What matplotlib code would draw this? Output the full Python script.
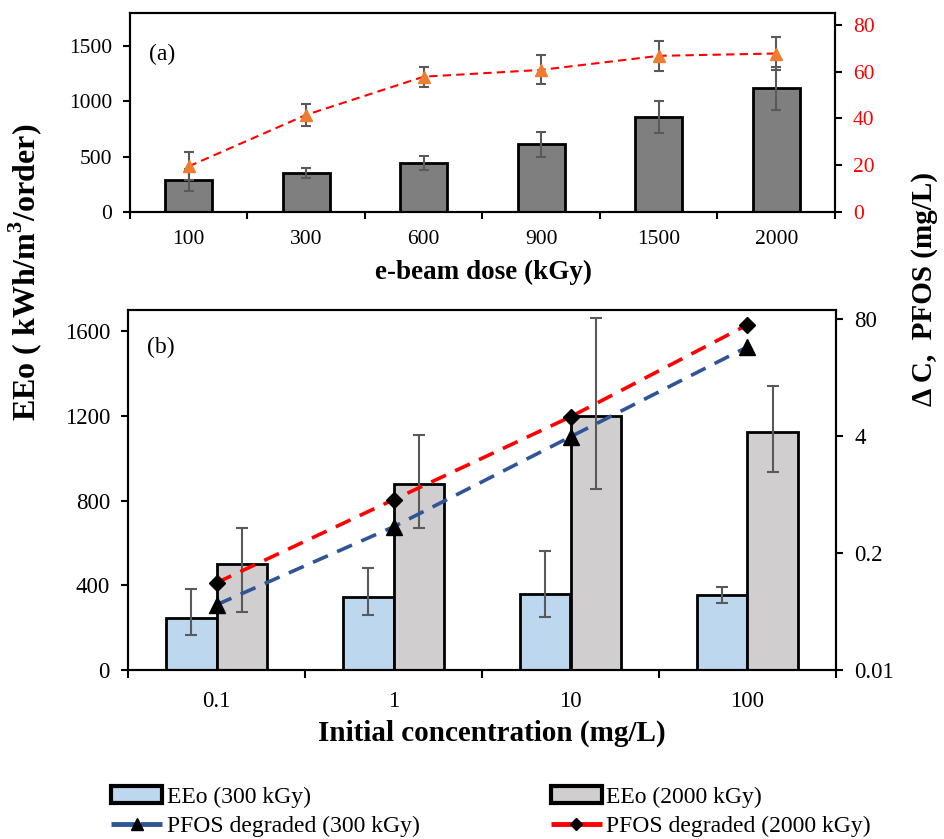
import matplotlib
matplotlib.use("Agg")
import matplotlib.pyplot as plt
import numpy as np
from matplotlib.lines import Line2D
from matplotlib.patches import Patch
from matplotlib.ticker import FixedLocator, NullLocator

plt.rcParams["font.family"] = ["Liberation Serif", "DejaVu Serif"]
plt.rcParams["mathtext.fontset"] = "custom"
plt.rcParams["mathtext.rm"] = "Liberation Serif"
plt.rcParams["mathtext.bf"] = "Liberation Serif:bold"

# (a) effect of e-beam dose
dose_labels = ["100", "300", "600", "900", "1500", "2000"]
eeo_dose = [289, 353, 443, 615, 859, 1121]
eeo_dose_err = [100, 45, 65, 113, 145, 195]
dc_dose = [19.5, 41.5, 57.8, 60.7, 66.7, 67.7]
dc_dose_err = [6.0, 4.7, 4.3, 6.2, 6.4, 7.0]

# (b) effect of initial concentration
conc_labels = ["0.1", "1", "10", "100"]
eeo_300 = [246, 346, 360, 355]
eeo_300_lo = [80, 86, 109, 38]
eeo_300_hi = [137, 137, 203, 38]
eeo_2000 = [502, 876, 1198, 1122]
eeo_2000_lo = [227, 204, 341, 189]
eeo_2000_hi = [170, 236, 464, 218]
pfos_300 = [0.053, 0.39, 3.9, 39]
pfos_2000 = [0.093, 0.78, 6.5, 68.5]

ERR_COLOR = "#595959"
BLUE_BAR = "#BDD7EE"
GREY_BAR = "#D0CECE"
LINE_BLUE = "#2F5597"

fig = plt.figure(figsize=(9.45, 8.39), dpi=100)
W, H = 945, 839


def px_axes(left, top, right, bottom):
    return fig.add_axes([left / W, 1 - bottom / H, (right - left) / W, (bottom - top) / H])


def style_spines(ax):
    for sp in ax.spines.values():
        sp.set_linewidth(1.5)
        sp.set_color("black")


# ---------- panel (a) ----------
ax1 = px_axes(130, 13, 835, 212)
x1 = np.arange(len(dose_labels))
ax1.bar(x1, eeo_dose, 0.4, color="#7F7F7F", edgecolor="black", linewidth=2, zorder=2,
        yerr=eeo_dose_err,
        error_kw=dict(ecolor=ERR_COLOR, elinewidth=1.5, capsize=3.5, capthick=1.5, zorder=3))
ax1.set_xlim(-0.5, len(dose_labels) - 0.5)
ax1.set_ylim(0, 1800)
ax1.set_yticks([0, 500, 1000, 1500])
ax1.set_xticks(x1)
ax1.set_xticklabels(dose_labels)
ax1.xaxis.set_minor_locator(FixedLocator(np.arange(-0.5, len(dose_labels), 1)))
ax1.tick_params(axis="x", which="major", length=0, pad=13, labelsize=15.5)
ax1.tick_params(axis="x", which="minor", length=5, width=1.5, direction="out")
ax1.tick_params(axis="y", length=5, width=1.5, pad=8, labelsize=15.5)
style_spines(ax1)
ax1.text(0.027, 0.79, "(a)", transform=ax1.transAxes, fontsize=17, ha="left", va="center")

ax1r = ax1.twinx()
ax1r.errorbar(x1, dc_dose, yerr=dc_dose_err, fmt="^", linestyle=(0, (4, 2.5)),
              color="#FF0000", lw=1.5, markersize=8, markerfacecolor="#ED7D31",
              markeredgecolor="#ED7D31", ecolor=ERR_COLOR, elinewidth=1.5,
              capsize=3.5, capthick=1.5, zorder=4)
ax1r.set_ylim(0, 85)
ax1r.set_yticks([0, 20, 40, 60, 80])
ax1r.tick_params(axis="y", length=5, width=1.5, pad=8, labelsize=15.5, labelcolor="#FF0000")
style_spines(ax1r)

# ---------- panel (b) ----------
ax2 = px_axes(128, 310, 836, 670)
x2 = np.arange(len(conc_labels))
bw = 0.285
ax2.bar(x2 - bw / 2, eeo_300, bw, color=BLUE_BAR, edgecolor="black", linewidth=2, zorder=2,
        yerr=[eeo_300_lo, eeo_300_hi],
        error_kw=dict(ecolor=ERR_COLOR, elinewidth=1.5, capsize=4, capthick=1.5, zorder=3))
ax2.bar(x2 + bw / 2, eeo_2000, bw, color=GREY_BAR, edgecolor="black", linewidth=2, zorder=2,
        yerr=[eeo_2000_lo, eeo_2000_hi],
        error_kw=dict(ecolor=ERR_COLOR, elinewidth=1.5, capsize=4, capthick=1.5, zorder=3))
ax2.set_xlim(-0.5, len(conc_labels) - 0.5)
ax2.set_ylim(0, 1700)
ax2.set_yticks([0, 400, 800, 1200, 1600])
ax2.set_xticks(x2)
ax2.set_xticklabels(conc_labels)
ax2.xaxis.set_minor_locator(FixedLocator(np.arange(-0.5, len(conc_labels), 1)))
ax2.tick_params(axis="x", which="major", length=0, pad=15, labelsize=16.5)
ax2.tick_params(axis="x", which="minor", length=6, width=1.5, direction="out")
ax2.tick_params(axis="y", length=5, width=1.5, pad=8, labelsize=16.5)
style_spines(ax2)
ax2.text(0.027, 0.895, "(b)", transform=ax2.transAxes, fontsize=17, ha="left", va="center")

ax2r = ax2.twinx()
ax2r.set_yscale("log")
ax2r.plot(x2, pfos_300, linestyle=(0, (4.5, 2.8)), color=LINE_BLUE, lw=2.6,
          marker="^", markersize=12, markerfacecolor="black", markeredgecolor="black", zorder=4)
ax2r.plot(x2, pfos_2000, linestyle=(0, (4.5, 2.8)), color="#FF0000", lw=2.6,
          marker="D", markersize=8.5, markerfacecolor="black", markeredgecolor="black", zorder=5)
ax2r.set_ylim(0.01, 100)
ax2r.yaxis.set_major_locator(FixedLocator([0.01, 0.2, 4, 80]))
ax2r.yaxis.set_minor_locator(NullLocator())
ax2r.set_yticklabels(["0.01", "0.2", "4", "80"])
ax2r.tick_params(axis="y", length=5, width=1.5, pad=8, labelsize=16.5)
style_spines(ax2r)

# ---------- shared labels ----------
fig.text(25 / W, 1 - 272 / H, r"EEo ( kWh/m$^{\mathbf{3}}$/order)", rotation=90,
         ha="center", va="center", fontsize=23, fontweight="bold")
fig.text(925 / W, 1 - 289 / H, "\u0394 C,  PFOS (mg/L)", rotation=90,
         ha="center", va="center", fontsize=21, fontweight="bold")
fig.text(484 / W, 1 - 272 / H, "e-beam dose (kGy)", ha="center", va="center",
         fontsize=19.5, fontweight="bold")
fig.text(492 / W, 1 - 733 / H, "Initial concentration (mg/L)", ha="center", va="center",
         fontsize=21, fontweight="bold")

# ---------- legend ----------
handles = [
    Patch(facecolor=BLUE_BAR, edgecolor="black", linewidth=3),
    Line2D([0], [0], color=LINE_BLUE, lw=3.5, linestyle=(0, (5, 1.0)), marker="^",
           markersize=8, markerfacecolor="black", markeredgecolor="black"),
    Patch(facecolor=GREY_BAR, edgecolor="black", linewidth=3),
    Line2D([0], [0], color="#FF0000", lw=3.5, linestyle=(0, (5, 1.0)), marker="D",
           markersize=6.5, markerfacecolor="black", markeredgecolor="black"),
]
labels = ["EEo (300 kGy)", "PFOS degraded (300 kGy)", "EEo (2000 kGy)", "PFOS degraded (2000 kGy)"]
fig.legend(handles, labels, ncol=2, loc="upper left", bbox_to_anchor=(111 / W, 1 - 786 / H),
           frameon=False, fontsize=17, handlelength=2.16, handletextpad=0.2,
           columnspacing=5.55, borderaxespad=0, borderpad=0, labelspacing=0.35, numpoints=1)

fig.savefig("out.png", dpi=100)
